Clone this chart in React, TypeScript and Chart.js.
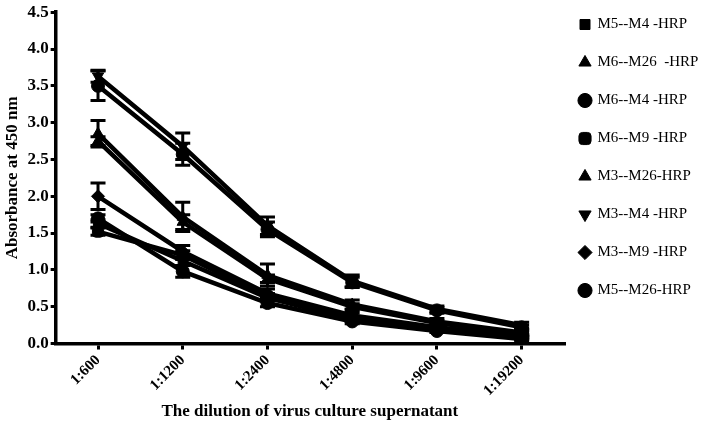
import React, { useEffect, useRef } from "react";
import { Chart, registerables } from "chart.js";

Chart.register(...registerables);

const categories = ["1:600", "1:1200", "1:2400", "1:4800", "1:9600", "1:19200"];
const seriesNames = [
  "M5--M4 -HRP",
  "M6--M26  -HRP",
  "M6--M4 -HRP",
  "M6--M9 -HRP",
  "M3--M26-HRP",
  "M3--M4 -HRP",
  "M3--M9 -HRP",
  "M5--M26-HRP",
];
const m5m4 = [1.63, 1.12, 0.62, 0.33, 0.19, 0.08];
const m6m26 = [2.85, 1.72, 0.93, 0.53, 0.3, 0.15];
const m6m4 = [3.5, 2.57, 1.55, 0.83, 0.45, 0.22];
const m6m9 = [1.52, 1.2, 0.64, 0.34, 0.2, 0.08];
const m3m26 = [2.75, 1.65, 0.88, 0.5, 0.28, 0.13];
const m3m4 = [3.63, 2.68, 1.6, 0.85, 0.47, 0.25];
const m3m9 = [2.0, 1.25, 0.68, 0.38, 0.22, 0.1];
const m5m26 = [1.7, 0.98, 0.55, 0.3, 0.17, 0.06];

const errM5m4 = [0.05, 0.06, 0.04, 0.03, 0.02, 0.02];
const errM6m26 = [0.18, 0.2, 0.15, 0.06, 0.04, 0.03];
const errM6m4 = [0.2, 0.15, 0.1, 0.07, 0.04, 0.03];
const errM6m9 = [0.05, 0.06, 0.04, 0.03, 0.02, 0.02];
const errM3m26 = [0.06, 0.1, 0.05, 0.04, 0.03, 0.02];
const errM3m4 = [0.08, 0.18, 0.12, 0.08, 0.04, 0.04];
const errM3m9 = [0.18, 0.08, 0.06, 0.04, 0.03, 0.02];
const errM5m26 = [0.05, 0.08, 0.05, 0.03, 0.02, 0.02];

const values = [m5m4, m6m26, m6m4, m6m9, m3m26, m3m4, m3m9, m5m26];
const errors = [errM5m4, errM6m26, errM6m4, errM6m9, errM3m26, errM3m4, errM3m9, errM5m26];
const styles = ["rect", "triangle", "circle", "rectRounded", "triangle", "triangle", "rectRot", "circle"];
const rotations = [0, 0, 0, 0, 0, 180, 0, 0];
const yTicks = [0, 0.5, 1, 1.5, 2, 2.5, 3, 3.5, 4, 4.5];

const FONT = "'Liberation Serif', 'Times New Roman', serif";

const errorBarPlugin = {
  id: "errorBars",
  afterDatasetsDraw(chart: any) {
    const ctx = chart.ctx;
    const yScale = chart.scales.y;
    ctx.save();
    ctx.strokeStyle = "#000";
    ctx.lineWidth = 3;
    chart.data.datasets.forEach((ds: any, di: number) => {
      const meta = chart.getDatasetMeta(di);
      const errs = errors[di];
      meta.data.forEach((pt: any, i: number) => {
        const v = ds.data[i];
        const e = errs[i];
        const x = pt.x;
        const yt = yScale.getPixelForValue(v + e);
        const yb = yScale.getPixelForValue(Math.max(0, v - e));
        const cap = 7.5;
        ctx.beginPath();
        ctx.moveTo(x, yt);
        ctx.lineTo(x, yb);
        ctx.moveTo(x - cap, yt);
        ctx.lineTo(x + cap, yt);
        ctx.moveTo(x - cap, yb);
        ctx.lineTo(x + cap, yb);
        ctx.stroke();
      });
    });
    ctx.restore();
  },
};

const legendShiftPlugin = {
  id: "legendShift",
  afterLayout(chart: any) {
    const lg = chart.legend;
    if (!lg) return;
    lg.left -= 7;
    lg.right -= 7;
    lg.top -= 7;
    lg.bottom -= 7;
  },
};

export default function App() {
  const ref = useRef<HTMLCanvasElement>(null);
  useEffect(() => {
    document.body.style.margin = "0";
    const chart = new Chart(ref.current!, {
      type: "line",
      data: {
        labels: categories,
        datasets: seriesNames.map((name, i) => ({
          label: name,
          data: values[i],
          borderColor: "#000",
          backgroundColor: "#000",
          borderWidth: 4.5,
          pointStyle: styles[i] as any,
          pointRotation: rotations[i],
          pointRadius: 6.5,
          pointBorderWidth: 1,
          pointBackgroundColor: "#000",
          pointBorderColor: "#000",
          tension: 0,
          fill: false,
        })),
      },
      options: {
        animation: false,
        responsive: false,
        layout: { padding: { top: 1, right: 3, bottom: 2, left: 1 } },
        plugins: {
          tooltip: { enabled: false },
          legend: {
            position: "right",
            align: "start",
            maxWidth: 150,
            labels: {
              usePointStyle: true,
              boxWidth: 10,
              boxHeight: 10,
              padding: 23,
              color: "#000",
              font: { family: FONT, size: 15 },
            },
          },
        },
        scales: {
          x: {
            type: "category",
            offset: true,
            grid: { drawOnChartArea: false, drawTicks: true, tickLength: 6, color: "#000", lineWidth: 3 },
            border: { display: true, color: "#000", width: 3.5 },
            ticks: {
              color: "#000",
              maxRotation: 45,
              minRotation: 45,
              padding: 2,
              font: { family: FONT, size: 15, weight: "bold" },
            },
            title: {
              display: true,
              text: "The dilution of virus culture supernatant",
              color: "#000",
              padding: { top: 0, bottom: 10 },
              font: { family: FONT, size: 17, weight: "bold" },
            },
          },
          y: {
            min: 0,
            max: 4.5,
            afterBuildTicks: (scale: any) => {
              scale.ticks = yTicks.map((v) => ({ value: v }));
            },
            grid: { drawOnChartArea: false, drawTicks: true, tickLength: 5, color: "#000", lineWidth: 3 },
            border: { display: true, color: "#000", width: 3.5 },
            ticks: {
              color: "#000",
              padding: 2,
              callback: (v: any) => Number(v).toFixed(1),
              font: { family: FONT, size: 17, weight: "bold" },
            },
            title: {
              display: true,
              text: "Absorbance at 450 nm",
              color: "#000",
              padding: { top: 1, bottom: 3 },
              font: { family: FONT, size: 17, weight: "bold" },
            },
          },
        },
      },
      plugins: [errorBarPlugin, legendShiftPlugin],
    });
    return () => chart.destroy();
  }, []);
  return <canvas ref={ref} width={717} height={434} style={{ display: "block" }} />;
}
